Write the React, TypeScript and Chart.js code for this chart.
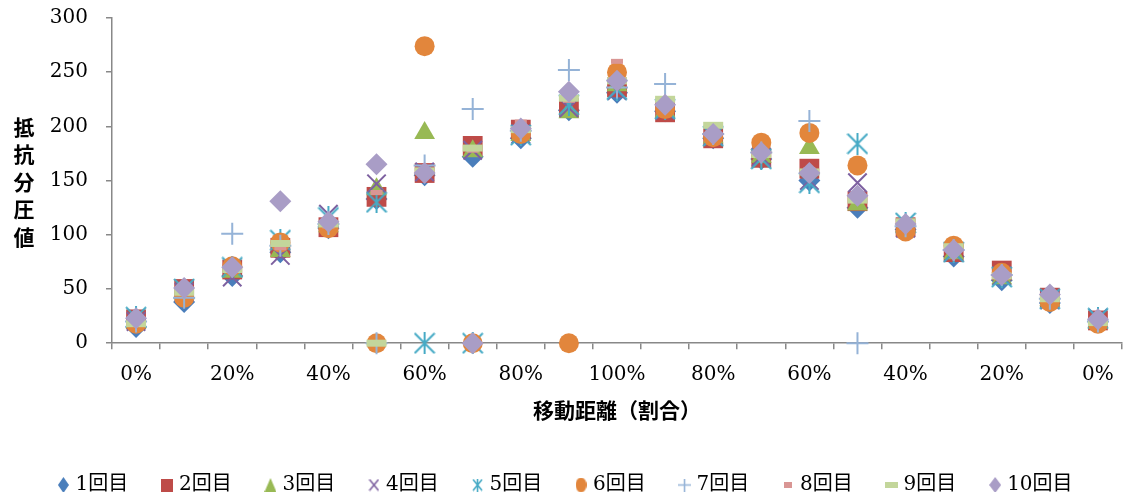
import React, { useEffect, useRef } from 'react';
import { Chart, registerables } from 'chart.js';

Chart.register(...registerables);

// ---- data ----
const categories = ['0%', '10%', '20%', '30%', '40%', '50%', '60%', '70%', '80%', '90%', '100%',
  '90%', '80%', '70%', '60%', '50%', '40%', '30%', '20%', '10%', '0%'];
const yTickValues = [0, 50, 100, 150, 200, 250, 300];
const seriesNames = ['1回目', '2回目', '3回目', '4回目', '5回目', '6回目', '7回目', '8回目', '9回目', '10回目'];
const xTitle = '移動距離（割合）';
const yTitle = '抵抗分圧値';

const s1 = [15, 38, 62, 84, 106, 133, 155, 172, 189, 215, 231, 214, 189, 170, 150, 125, 105, 80, 58, 37, 20];
const s2 = [22, 50, 68, 88, 107, 135, 157, 182, 197, 217, 236, 213, 189, 171, 161, 131, 107, 84, 67, 42, 21];
const s3 = [19, 46, 66, 85, 108, 142, 194, 177, 192, 213, 238, 214, 190, 172, 180, 128, 108, 83, 60, 40, 19];
const s4 = [20, 47, 61, 81, 119, 147, 158, 178, 193, 217, 233, 215, 191, 172, 150, 148, 106, 84, 62, 40, 23];
const s5 = [24, 50, 70, 95, 116, 130, 0, 0, 192, 220, 234, 216, 191, 170, 148, 184, 111, 84, 61, 41, 23];
const s6 = [18, 42, 71, 93, 106, 0, 274, 0, 193, 0, 250, 216, 190, 185, 194, 164, 103, 90, 65, 38, 18];
const s7 = [20, 42, 101, 90, 110, 0, 164, 216, 196, 252, 236, 239, 193, 176, 205, 0, 108, 86, 63, 41, 20];
const s8 = [19, 46, 67, 88, 108, 139, 160, 178, 204, 224, 260, 218, 195, 174, 160, 134, 107, 86, 64, 41, 20];
const s9 = [18, 47, 68, 92, 110, 0, 159, 180, 197, 226, 242, 225, 201, 174, 158, 132, 112, 89, 62, 41, 19];
const s10 = [23, 51, 70, 131, 112, 165, 157, 0, 198, 232, 242, 220, 193, 176, 157, 136, 110, 86, 63, 45, 22];
const seriesValues = [s1, s2, s3, s4, s5, s6, s7, s8, s9, s10];

// ---- styles ----
const colors = ['#4A7EBB', '#BE4B48', '#98B954', '#7D60A0', '#46AAC5', '#E2863C', '#95B3D7', '#D99694', '#C3D69B', '#A99DC6'];
const markerKinds = ['diamond', 'square', 'triangle', 'x', 'asterisk', 'circle', 'plus', 'dash', 'dash', 'diamond'];
const pointRadii = [11, 14, 12, 13, 11, 10, 11, 6, 10, 11];
const pointBorder = [0, 0, 0, 2, 0, 0, 2, 5, 7, 0];
const legendSizes: [number, number][] = [[11, 16], [12, 13], [12, 14], [11, 13], [11, 13], [11, 15], [13, 13], [8, 6], [13, 6], [12, 16]];

const serifFont = '"DejaVu Serif", "Noto Sans CJK JP", serif';
const gothicFont = '"Noto Sans CJK JP", sans-serif';

function makeMarker(kind: string, color: string, w: number, h: number, lw = 2): HTMLCanvasElement {
  const c = document.createElement('canvas');
  c.width = w;
  c.height = h;
  const g = c.getContext('2d')!;
  g.fillStyle = color;
  g.strokeStyle = color;
  g.lineWidth = lw;
  g.beginPath();
  switch (kind) {
    case 'diamond':
      g.moveTo(w / 2, 0); g.lineTo(w, h / 2); g.lineTo(w / 2, h); g.lineTo(0, h / 2); g.closePath(); g.fill();
      break;
    case 'square':
      g.fillRect(0, 0, w, h);
      break;
    case 'triangle':
      g.moveTo(w / 2, 0); g.lineTo(w, h); g.lineTo(0, h); g.closePath(); g.fill();
      break;
    case 'circle':
      g.ellipse(w / 2, h / 2, w / 2, h / 2, 0, 0, Math.PI * 2); g.fill();
      break;
    case 'x':
      g.moveTo(1, 1); g.lineTo(w - 1, h - 1); g.moveTo(w - 1, 1); g.lineTo(1, h - 1); g.stroke();
      break;
    case 'asterisk':
      g.moveTo(w / 2, 0); g.lineTo(w / 2, h);
      g.moveTo(1, 1); g.lineTo(w - 1, h - 1); g.moveTo(w - 1, 1); g.lineTo(1, h - 1); g.stroke();
      break;
    case 'plus':
      g.moveTo(w / 2, 0); g.lineTo(w / 2, h); g.moveTo(0, h / 2); g.lineTo(w, h / 2); g.stroke();
      break;
    case 'dash':
      g.fillRect(0, 0, w, h);
      break;
  }
  return c;
}

const yTitlePlugin = {
  id: 'stackedYTitle',
  afterLayout(chart: any) {
    if (chart.legend) {
      chart.legend.left += 6;
      chart.legend.right += 6;
    }
  },
  afterDraw(chart: any) {
    const { ctx, chartArea } = chart;
    const step = 27.5;
    const chars = Array.from(yTitle);
    const mid = (chartArea.top + chartArea.bottom) / 2 + 1;
    const start = mid - (step * (chars.length - 1)) / 2;
    ctx.save();
    ctx.font = `bold 21px ${gothicFont}`;
    ctx.fillStyle = '#000';
    ctx.textAlign = 'center';
    ctx.textBaseline = 'middle';
    chars.forEach((ch, i) => ctx.fillText(ch, 24, start + i * step));
    ctx.restore();
  },
};

export default function App() {
  const ref = useRef<HTMLCanvasElement | null>(null);

  useEffect(() => {
    if (!ref.current) return;
    const asterisk = makeMarker('asterisk', colors[4], 22, 22, 2);
    const legendMarkers = markerKinds.map((k, i) =>
      makeMarker(k, colors[i], legendSizes[i][0], legendSizes[i][1], 1.6)
    );

    const datasets = seriesNames.map((name, i) => ({
      label: name,
      data: seriesValues[i],
      showLine: false,
      order: 10 - i,
      clip: false as const,
      pointStyle: markerKinds[i] === 'asterisk' ? asterisk
        : ({ diamond: 'rectRot', square: 'rect', triangle: 'triangle', x: 'crossRot', circle: 'circle', plus: 'cross', dash: 'line' } as any)[markerKinds[i]],
      pointRadius: pointRadii[i],
      pointHoverRadius: pointRadii[i],
      pointBackgroundColor: colors[i],
      pointBorderColor: colors[i],
      pointBorderWidth: pointBorder[i],
      backgroundColor: colors[i],
      borderColor: colors[i],
    }));

    const chart = new Chart(ref.current, {
      type: 'line',
      data: { labels: categories, datasets },
      plugins: [yTitlePlugin],
      options: {
        animation: false,
        responsive: false,
        layout: { autoPadding: false, padding: { left: 0, right: 2, top: 18, bottom: -13 } },
        plugins: {
          tooltip: { enabled: false },
          legend: {
            position: 'bottom',
            labels: {
              usePointStyle: true,
              boxWidth: 4,
              boxHeight: 14,
              padding: 36.8,
              color: '#000',
              font: { family: serifFont, size: 20 },
              sort: (a: any, b: any) => a.datasetIndex - b.datasetIndex,
              generateLabels: () =>
                seriesNames.map((name, i) => ({
                  text: name,
                  datasetIndex: i,
                  pointStyle: legendMarkers[i],
                  fillStyle: colors[i],
                  strokeStyle: colors[i],
                  lineWidth: 0,
                  hidden: false,
                  fontColor: '#000',
                })),
            },
          },
        },
        scales: {
          x: {
            type: 'category',
            offset: true,
            afterFit: (scale: any) => {
              scale.height = 95;
              scale.paddingLeft = 0;
              scale.paddingRight = 0;
            },
            grid: { offset: true, drawOnChartArea: false, drawTicks: true, tickLength: 6, color: '#888', lineWidth: 1.5 },
            border: { display: true, color: '#888', width: 1.5 },
            ticks: {
              autoSkip: false,
              maxRotation: 0,
              minRotation: 0,
              padding: 14,
              color: '#000',
              font: { family: serifFont, size: 20 },
              callback: function (this: any, value: any, index: number) {
                return index % 2 === 0 ? this.getLabelForValue(value) : '';
              },
            },
            title: {
              display: true,
              text: xTitle,
              color: '#000',
              font: { family: gothicFont, size: 21, weight: 'bold' },
              padding: { top: 0, bottom: 16 },
            },
          },
          y: {
            type: 'linear',
            min: yTickValues[0],
            max: yTickValues[yTickValues.length - 1],
            afterFit: (scale: any) => {
              scale.width = 112;
              scale.paddingTop = 0;
              scale.paddingBottom = 0;
            },
            afterBuildTicks: (scale: any) => { scale.ticks = yTickValues.map((v) => ({ value: v })); },
            grid: { drawOnChartArea: false, drawTicks: true, tickLength: 6, color: '#888', lineWidth: 1.5 },
            border: { display: true, color: '#888', width: 1.5 },
            ticks: {
              padding: 18,
              color: '#000',
              font: { family: serifFont, size: 20 },
            },
          },
        },
      } as any,
    });
    return () => chart.destroy();
  }, []);

  return (
    <div style={{ position: 'fixed', left: 0, top: 0, width: 1124, height: 492, background: '#fff' }}>
      <canvas ref={ref} width={1124} height={492} style={{ display: 'block', width: 1124, height: 492 }} />
    </div>
  );
}
